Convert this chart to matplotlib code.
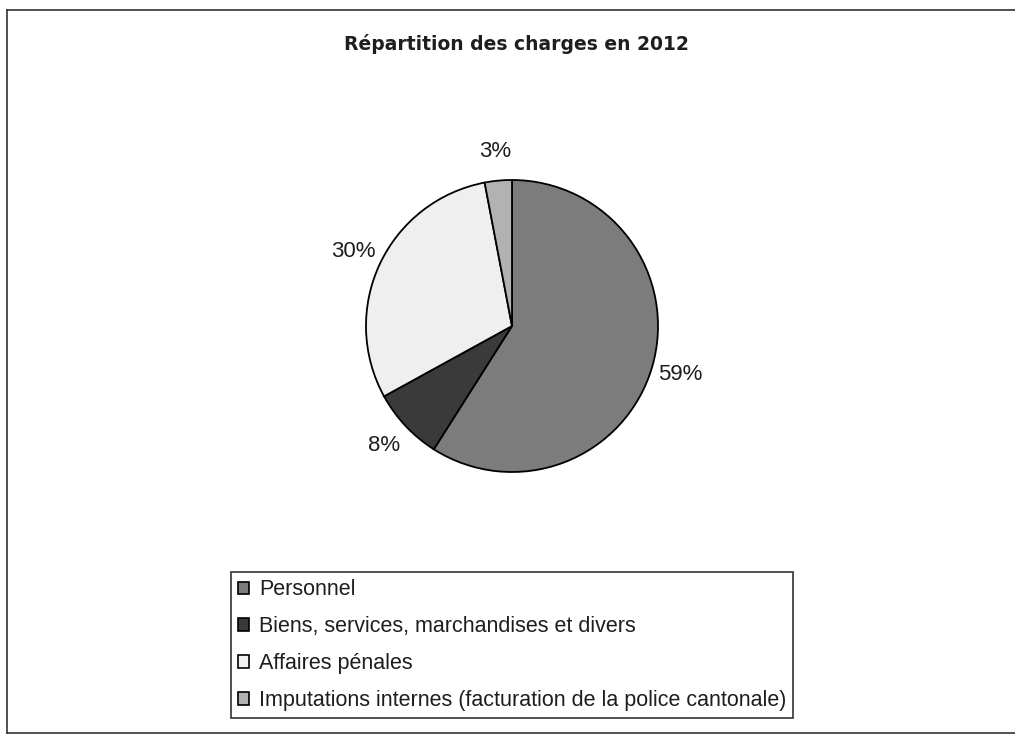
import matplotlib
matplotlib.use("Agg")
import matplotlib.pyplot as plt
from matplotlib.patches import Patch
from matplotlib.lines import Line2D

plt.rcParams['font.family'] = ['Liberation Sans', 'DejaVu Sans']

categories = [
    "Personnel",
    "Biens, services, marchandises et divers",
    "Affaires pénales",
    "Imputations internes (facturation de la police cantonale)",
]
shares = [59, 8, 30, 3]
colors = ["#7c7c7c", "#3a3a3a", "#efefef", "#b2b2b2"]
title = "Répartition des charges en 2012"

W, H = 1015, 736
fig = plt.figure(figsize=(W / 100, H / 100), dpi=100)
fig.patch.set_facecolor("white")

# pie axes placed in pixel units
cx, cy, r = 512, 326, 146
ax = fig.add_axes([(cx - r) / W, 1 - (cy + r) / H, 2 * r / W, 2 * r / H])
wedges, texts, autotexts = ax.pie(
    shares, colors=colors, startangle=90, counterclock=False,
    autopct=lambda p: f"{p:.0f}%", pctdistance=1.2, radius=1,
    wedgeprops=dict(edgecolor="black", linewidth=1.3),
    textprops=dict(fontsize=16, color="#1e1e1e"),
)
ax.set_xlim(-1, 1)
ax.set_ylim(-1, 1)
ax.set_aspect("equal")
ax.axis("off")

fig.text(516 / W, 1 - 44 / H, title, ha="center", va="center",
         fontsize=13.5, fontweight="bold", color="#1e1e1e",
         family=["DejaVu Sans"])

handles = [Patch(facecolor=c, edgecolor="black", linewidth=1.2) for c in colors]
leg = fig.legend(handles, categories, loc="upper left",
                 bbox_to_anchor=(231 / W, 1 - 572 / H),
                 frameon=True, fancybox=False, fontsize=15.5,
                 handlelength=0.5, handleheight=0.5, handletextpad=0.45,
                 labelspacing=0.74, borderpad=0.34, borderaxespad=0)
leg.get_frame().set_edgecolor("black")
leg.get_frame().set_linewidth(1.2)
for t in leg.get_texts():
    t.set_color("#1e1e1e")

# outer frame of the chart area
frame_kw = dict(color="#333333", linewidth=1.2, transform=fig.transFigure)
fig.add_artist(Line2D([7 / W, 7 / W], [1 - 10 / H, 1 - 733 / H], **frame_kw))
fig.add_artist(Line2D([7 / W, 1.0], [1 - 10 / H, 1 - 10 / H], **frame_kw))
fig.add_artist(Line2D([7 / W, 1.0], [1 - 733 / H, 1 - 733 / H], **frame_kw))

fig.savefig("out.png", dpi=100, facecolor="white")
